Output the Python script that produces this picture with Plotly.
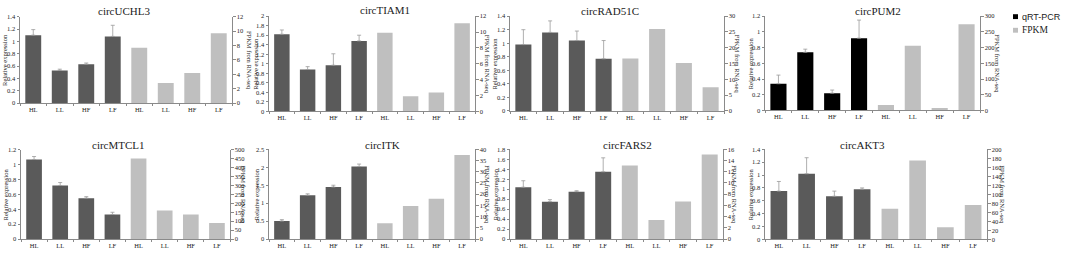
import plotly.graph_objects as go

W, H = 1065, 253
groups = ["HL", "LL", "HF", "LF"]
tick_labels = groups + groups

# ---- data (qRT-PCR relative expression, error, FPKM from RNA-seq) ----
uchl3_qpcr = [1.10, 0.53, 0.63, 1.08]
uchl3_err = [0.09, 0.02, 0.02, 0.18]
uchl3_fpkm = [7.7, 2.8, 4.2, 9.7]

tiam1_qpcr = [1.62, 0.88, 0.97, 1.48]
tiam1_err = [0.09, 0.06, 0.24, 0.12]
tiam1_fpkm = [9.9, 1.9, 2.4, 11.1]

rad51c_qpcr = [0.98, 1.16, 1.04, 0.77]
rad51c_err = [0.22, 0.17, 0.14, 0.27]
rad51c_fpkm = [16.6, 25.9, 15.2, 7.5]

pum2_qpcr = [0.34, 0.74, 0.22, 0.92]
pum2_err = [0.11, 0.04, 0.04, 0.23]
pum2_fpkm = [17, 206, 8, 274]

mtcl1_qpcr = [1.07, 0.72, 0.55, 0.33]
mtcl1_err = [0.04, 0.04, 0.02, 0.03]
mtcl1_fpkm = [452, 160, 138, 90]

itk_qpcr = [0.50, 1.22, 1.45, 2.02]
itk_err = [0.04, 0.04, 0.05, 0.07]
itk_fpkm = [7.0, 14.7, 18.0, 37.5]

fars2_qpcr = [1.04, 0.75, 0.95, 1.35]
fars2_err = [0.13, 0.04, 0.02, 0.28]
fars2_fpkm = [13.1, 3.4, 6.7, 15.1]

akt3_qpcr = [0.75, 1.02, 0.67, 0.78]
akt3_err = [0.15, 0.25, 0.08, 0.02]
akt3_fpkm = [68, 175, 27, 76]

DARK = "#5a5a5a"
BLACK = "#000000"
LIGHT = "#bfbfbf"
ERRC = "#9a9a9a"
AXC = "#8a8a8a"
TXT = "#222222"
FONT = "Liberation Serif"

# layout spec per panel: pixel box, axis ranges, label positions
panels = [
    ("circUCHL3", uchl3_qpcr, uchl3_err, uchl3_fpkm, 20, 232, 13, 102, 1.4, 0.2, 12, 2, 124, 7, 5, 249, DARK),
    ("circTIAM1", tiam1_qpcr, tiam1_err, tiam1_fpkm, 269, 475, 12.5, 110.5, 2, 0.2, 12, 2, 385, 6.5, 256, 487, DARK),
    ("circRAD51C", rad51c_qpcr, rad51c_err, rad51c_fpkm, 510, 724, 12.5, 110, 1.4, 0.2, 30, 5, 610, 7, 495, 737, DARK),
    ("circPUM2", pum2_qpcr, pum2_err, pum2_fpkm, 765, 980, 12.5, 109.5, 1.2, 0.2, 300, 50, 878, 7, 750, 998, BLACK),
    ("circMTCL1", mtcl1_qpcr, mtcl1_err, mtcl1_fpkm, 21, 230, 150, 241.7, 1.2, 0.2, 500, 50, 118, 145, 5, 244, DARK),
    ("circITK", itk_qpcr, itk_err, itk_fpkm, 269, 475, 149.5, 241.7, 2.5, 0.5, 40, 5, 382, 145, 256, 488, DARK),
    ("circFARS2", fars2_qpcr, fars2_err, fars2_fpkm, 510, 723, 149.5, 241.7, 1.8, 0.2, 16, 2, 627, 145, 495, 735, DARK),
    ("circAKT3", akt3_qpcr, akt3_err, akt3_fpkm, 765, 987, 149.5, 242, 1.4, 0.2, 200, 20, 862, 145, 750, 1003, DARK),
]

fig = go.Figure()
layout = dict(
    width=W, height=H, margin=dict(l=0, r=0, t=0, b=0),
    paper_bgcolor="white", plot_bgcolor="white",
    barmode="overlay", showlegend=False,
    font=dict(family=FONT, color=TXT),
)
annotations = []
shapes = []

for i, (name, q, e, f, x0, x1, yt, yb, lmax, ldt, rmax, rdt, tx, ty, ltx, rtx, dcol) in enumerate(panels):
    xi = i + 1
    yl = 2 * i + 1
    yr = 2 * i + 2
    xa = "x" if xi == 1 else f"x{xi}"
    yla = "y" if yl == 1 else f"y{yl}"
    yra = f"y{yr}"
    xdom = [x0 / W, x1 / W]
    ydom = [1 - yb / H, 1 - yt / H]

    fig.add_trace(go.Bar(
        x=[0, 1, 2, 3], y=q, width=0.6, marker=dict(color=dcol, line=dict(width=0)),
        xaxis=xa, yaxis=yla, name="qRT-PCR",
        error_y=dict(type="data", array=e, arrayminus=[0] * len(e), symmetric=False,
                     color=ERRC, thickness=0.8, width=2),
    ))
    fig.add_trace(go.Bar(
        x=[4, 5, 6, 7], y=f, width=0.6, marker=dict(color=LIGHT, line=dict(width=0)),
        xaxis=xa, yaxis=yra, name="FPKM",
    ))

    layout["xaxis" if xi == 1 else f"xaxis{xi}"] = dict(
        domain=xdom, anchor=yla, range=[-0.5, 7.5],
        tickmode="array", tickvals=list(range(8)), ticktext=tick_labels,
        ticks="", showline=True, linecolor=AXC, linewidth=1, showgrid=False, zeroline=False,
        tickfont=dict(size=6.5, family=FONT, color=TXT),
        minor=dict(ticks="outside", tickmode="array", tickvals=[k - 0.5 for k in range(9)],
                   ticklen=2, tickcolor=AXC, showgrid=False),
        fixedrange=True,
    )
    layout["yaxis" if yl == 1 else f"yaxis{yl}"] = dict(
        domain=ydom, anchor=xa, range=[0, lmax], dtick=ldt, tick0=0,
        ticks="outside", ticklen=2.5, tickcolor=AXC, showline=True, linecolor=AXC, linewidth=1,
        showgrid=False, zeroline=False, tickfont=dict(size=6.5, family=FONT, color=TXT),
    )
    layout[f"yaxis{yr}"] = dict(
        domain=ydom, anchor=xa, overlaying=yla, side="right", range=[0, rmax], dtick=rdt, tick0=0,
        ticks="outside", ticklen=2.5, tickcolor=AXC, showline=True, linecolor=AXC, linewidth=1,
        showgrid=False, zeroline=False, tickfont=dict(size=6.5, family=FONT, color=TXT),
    )

    cy = 1 - (yt + yb) / 2 / H
    annotations.append(dict(text=name, x=tx / W, y=1 - ty / H, xref="paper", yref="paper",
                            xanchor="center", yanchor="middle", showarrow=False,
                            font=dict(size=11, family=FONT, color=TXT)))
    annotations.append(dict(text="Relative expression", x=ltx / W, y=cy, xref="paper", yref="paper",
                            xanchor="center", yanchor="middle", showarrow=False, textangle=-90,
                            font=dict(size=6.5, family=FONT, color=TXT)))
    annotations.append(dict(text="FPKM from RNA-seq", x=rtx / W, y=cy, xref="paper", yref="paper",
                            xanchor="center", yanchor="middle", showarrow=False, textangle=90,
                            font=dict(size=6.5, family=FONT, color=TXT)))

# legend: colour keys + labels
legend_items = [("qRT-PCR", BLACK, 13, "Liberation Sans", 9), ("FPKM", LIGHT, 27, FONT, 9.5)]
for label, col, py, fam, fs in legend_items:
    shapes.append(dict(type="rect", xref="paper", yref="paper",
                       x0=1013 / W, x1=1018 / W, y0=1 - (py + 2.5) / H, y1=1 - (py - 2.5) / H,
                       fillcolor=col, line=dict(width=0)))
    annotations.append(dict(text=label, x=1020 / W, y=1 - py / H,
                            xref="paper", yref="paper", xanchor="left", yanchor="middle", showarrow=False,
                            font=dict(size=fs, family=fam, color=TXT)))

layout["annotations"] = annotations
layout["shapes"] = shapes
fig.update_layout(**layout)
fig.write_html("out.html", config={"displayModeBar": False},
               post_script="document.body.style.margin='0px';")
